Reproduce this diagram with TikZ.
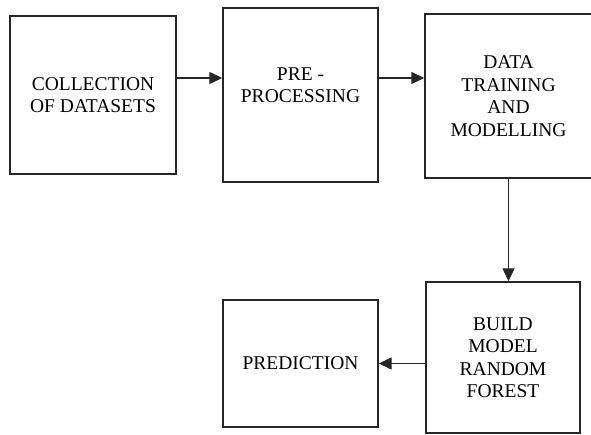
\documentclass[tikz,border=0pt]{standalone}
\usepackage{fontspec}
\setmainfont{Liberation Serif}
\usetikzlibrary{arrows.meta}
\begin{document}
\begin{tikzpicture}[x=1pt,y=-1pt]
    \tikzstyle{stage}=[draw=black!85,line width=1.4pt,align=center,inner sep=0pt,font=\fontsize{19.5}{22.5}\selectfont]
    \tikzstyle{flow}=[draw=black!85,line width=1.4pt,-{Triangle[length=13pt,width=12pt]}]
    \useasboundingbox (0,0) rectangle (591,435);
    \node[stage,minimum width=166pt,minimum height=158pt] (coll) at (93,95) {COLLECTION\\OF DATASETS};
    \node[stage,minimum width=155pt,minimum height=174pt,text depth=20pt] (prep) at (300.5,95) {PRE -\\PROCESSING};
    \node[stage,minimum width=167pt,minimum height=164pt] (train) at (508.5,96) {DATA\\TRAINING\\AND\\MODELLING};
    \node[stage,minimum width=154pt,minimum height=151pt] (build) at (503,357.5) {BUILD\\MODEL\\RANDOM\\FOREST};
    \node[stage,minimum width=155pt,minimum height=127pt] (pred) at (300.5,363.5) {PREDICTION};
    \draw[flow] ([yshift=17pt]coll.east) -- ([yshift=17pt]coll.east -| prep.west);
    \draw[flow] ([yshift=17pt]prep.east) -- ([yshift=17pt]prep.east -| train.west);
    \draw[flow] (train.south) -- (train.south |- build.north);
    \draw[flow] (build.west |- pred.east) -- (pred.east);
\end{tikzpicture}
\end{document}
